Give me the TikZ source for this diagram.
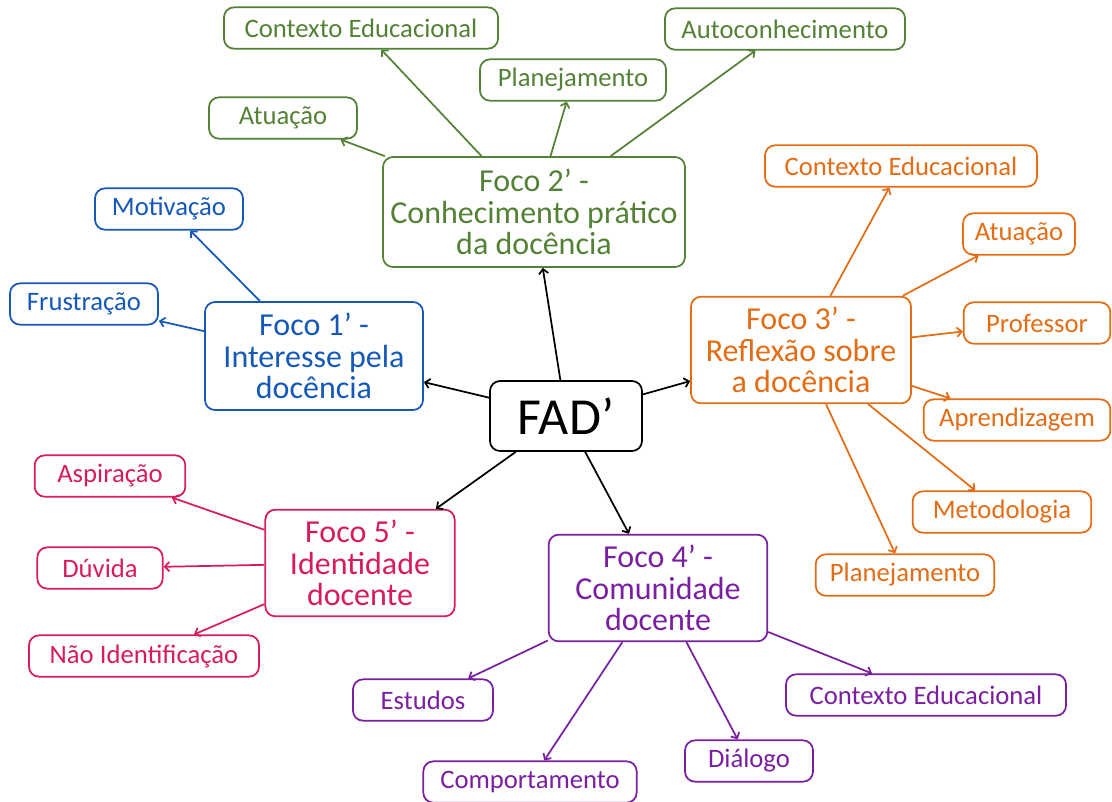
\documentclass[tikz,border=0pt]{standalone}
\usepackage{fontspec}
\setmainfont{Carlito}
\usetikzlibrary{arrows.meta}

\definecolor{verde}{HTML}{538135}
\definecolor{azul}{HTML}{1558B8}
\definecolor{laranja}{HTML}{E36C15}
\definecolor{rosa}{HTML}{D81B5E}
\definecolor{roxo}{HTML}{7A1FA0}

\tikzset{
  caixa/.style={draw, rounded corners=7.5pt, line width=1.3pt, align=center},
  foco/.style={caixa, font=\fontsize{24}{23.5}\selectfont, inner xsep=2pt},
  folha/.style={caixa, font=\fontsize{20}{20}\selectfont, minimum height=31pt, minimum width=#1},
  liga/.style={line width=1.3pt, -{Straight Barb[length=3.5pt,width=7pt]}},
}

\begin{document}
\begin{tikzpicture}[x=0.75pt,y=-0.75pt]
  \useasboundingbox (0,0) rectangle (1112,801) ;

  % centro
  \node[caixa, font=\fontsize{39}{39}\selectfont, minimum width=114pt, minimum height=52.5pt] (fad) at (566,416) {FAD’} ;

  % focos
  \node[foco, draw=azul, text=azul, minimum width=163.5pt, minimum height=81pt] (f1) at (314,356) {Foco 1’ -\\Interesse pela\\docência} ;
  \node[foco, draw=verde, text=verde, minimum width=226.5pt, minimum height=82.5pt] (f2) at (534,212) {Foco 2’ -\\Conhecimento prático\\da docência} ;
  \node[foco, draw=laranja, text=laranja, minimum width=165pt, minimum height=80pt] (f3) at (801,350) {Foco 3’ -\\Reflexão sobre\\a docência} ;
  \node[foco, draw=roxo, text=roxo, minimum width=164pt, minimum height=80pt] (f4) at (658,588) {Foco 4’ -\\Comunidade\\docente} ;
  \node[foco, draw=rosa, text=rosa, minimum width=142pt, minimum height=80pt] (f5) at (360,563) {Foco 5’ -\\Identidade\\docente} ;

  \draw[liga] (fad) -- (f1) ;
  \draw[liga] (fad) -- (f2) ;
  \draw[liga] (fad) -- (f3) ;
  \draw[liga] (fad) -- (f4) ;
  \draw[liga] (fad) -- (f5) ;

  % foco 1
  \node[folha=111pt, draw=azul, text=azul] (mo1) at (169,209) {Motivação} ;
  \node[folha=111pt, draw=azul, text=azul] (fr1) at (84,304) {Frustração} ;
  \draw[liga, azul] (f1) -- (mo1) ;
  \draw[liga, azul] (f1) -- (fr1) ;

  % foco 2
  \node[folha=205.5pt, draw=verde, text=verde] (ce2) at (361,28) {Contexto Educacional} ;
  \node[folha=139.5pt, draw=verde, text=verde] (pl2) at (573,80) {Planejamento} ;
  \node[folha=180pt, draw=verde, text=verde] (au2) at (785,29) {Autoconhecimento} ;
  \node[folha=111pt, draw=verde, text=verde] (at2) at (283,118) {Atuação} ;
  \draw[liga, verde] (f2) -- (ce2) ;
  \draw[liga, verde] (f2) -- (pl2) ;
  \draw[liga, verde] (f2) -- (au2) ;
  \draw[liga, verde] (f2) -- (at2) ;

  % foco 3
  \node[folha=204pt, draw=laranja, text=laranja] (ce3) at (901,166) {Contexto Educacional} ;
  \node[folha=84pt, draw=laranja, text=laranja] (at3) at (1019,234) {Atuação} ;
  \node[folha=110pt, draw=laranja, text=laranja] (pr3) at (1037,323) {Professor} ;
  \node[folha=140pt, draw=laranja, text=laranja] (ap3) at (1017,420) {Aprendizagem} ;
  \node[folha=134pt, draw=laranja, text=laranja] (me3) at (1002,512) {Metodologia} ;
  \node[folha=134pt, draw=laranja, text=laranja] (pl3) at (905,575) {Planejamento} ;
  \draw[liga, laranja] (f3) -- (ce3) ;
  \draw[liga, laranja] (f3) -- (at3) ;
  \draw[liga, laranja] (f3) -- (pr3) ;
  \draw[liga, laranja] (f3) -- (ap3) ;
  \draw[liga, laranja] (f3) -- (me3) ;
  \draw[liga, laranja] (f3) -- (pl3) ;

  % foco 4
  \node[folha=105pt, draw=roxo, text=roxo] (es4) at (423,700) {Estudos} ;
  \node[folha=160pt, draw=roxo, text=roxo] (co4) at (530,782) {Comportamento} ;
  \node[folha=96pt, draw=roxo, text=roxo] (di4) at (749,761) {Diálogo} ;
  \node[folha=210pt, draw=roxo, text=roxo] (ce4) at (926,695) {Contexto Educacional} ;
  \draw[liga, roxo] (f4) -- (es4) ;
  \draw[liga, roxo] (f4) -- (co4) ;
  \draw[liga, roxo] (f4) -- (di4) ;
  \draw[liga, roxo] (f4) -- (ce4) ;

  % foco 5
  \node[folha=113pt, draw=rosa, text=rosa] (as5) at (110,476) {Aspiração} ;
  \node[folha=94pt, draw=rosa, text=rosa] (du5) at (100,568) {Dúvida} ;
  \node[folha=172.5pt, draw=rosa, text=rosa] (ni5) at (144,656) {Não Identificação} ;
  \draw[liga, rosa] (f5) -- (as5) ;
  \draw[liga, rosa] (f5) -- (du5) ;
  \draw[liga, rosa] (f5) -- (ni5) ;
\end{tikzpicture}
\end{document}
